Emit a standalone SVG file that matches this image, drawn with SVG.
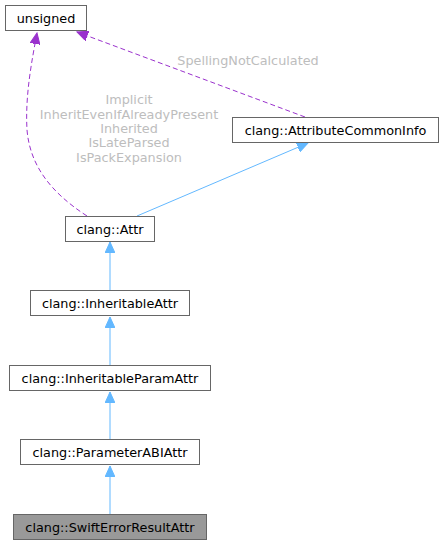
<svg xmlns="http://www.w3.org/2000/svg" width="444" height="545" viewBox="0 0 444 545">
<style>
.n rect{fill:#fff;stroke:#666;stroke-width:1}
.n text{font-family:"DejaVu Sans",sans-serif;font-size:12.8px;fill:#000;text-anchor:middle}
.lbl{font-family:"DejaVu Sans",sans-serif;font-size:12.8px;fill:#bdbdbd;text-anchor:middle}
.inh{fill:none;stroke:#63b8ff;stroke-width:1}
.use{fill:none;stroke:#9a32cd;stroke-width:1;stroke-dasharray:5,3}
</style>
<defs>
<marker id="ab" markerWidth="12" markerHeight="10" refX="11" refY="5" orient="auto" markerUnits="userSpaceOnUse"><path d="M0,0 L11,5 L0,10 Z" fill="#63b8ff" stroke="#63b8ff"/></marker>
<marker id="ap" markerWidth="12" markerHeight="10" refX="11" refY="5" orient="auto" markerUnits="userSpaceOnUse"><path d="M0,0 L11,5 L0,10 Z" fill="#9a32cd" stroke="#9a32cd"/></marker>
</defs>
<g id="edges">
<path class="use" d="M305,117 L77,32" marker-end="url(#ap)"/>
<path class="use" d="M87,216 C50,192 30,165 27,130 C25,95 32,60 37,33" marker-end="url(#ap)"/>
<path class="inh" d="M137,216 L308,143" marker-end="url(#ab)"/>
<path class="inh" d="M110,290 L110,242" marker-end="url(#ab)"/>
<path class="inh" d="M110,365 L110,317" marker-end="url(#ab)"/>
<path class="inh" d="M110,439 L110,392" marker-end="url(#ab)"/>
<path class="inh" d="M110,514 L110,466" marker-end="url(#ab)"/>
<text class="lbl" x="248" y="65">SpellingNotCalculated</text>
<text class="lbl" x="129" y="104">Implicit</text>
<text class="lbl" x="129" y="119">InheritEvenIfAlreadyPresent</text>
<text class="lbl" x="129" y="133">Inherited</text>
<text class="lbl" x="129" y="147">IsLateParsed</text>
<text class="lbl" x="129" y="162">IsPackExpansion</text>
</g>
<g id="unsigned" class="n"><rect x="5.5" y="5.5" width="81" height="25"/><text x="46" y="22.5">unsigned</text></g>
<g id="AttributeCommonInfo" class="n"><rect x="232.5" y="117.5" width="206" height="25"/><text x="335.5" y="134.5">clang::AttributeCommonInfo</text></g>
<g id="Attr" class="n"><rect x="65.5" y="216.5" width="89" height="25"/><text x="110" y="233.5">clang::Attr</text></g>
<g id="InheritableAttr" class="n"><rect x="30.5" y="290.5" width="159" height="25"/><text x="110" y="307.5">clang::InheritableAttr</text></g>
<g id="InheritableParamAttr" class="n"><rect x="9.5" y="365.5" width="201" height="25"/><text x="110" y="382.5">clang::InheritableParamAttr</text></g>
<g id="ParameterABIAttr" class="n"><rect x="20.5" y="439.5" width="179" height="25"/><text x="110" y="456.5">clang::ParameterABIAttr</text></g>
<g id="SwiftErrorResultAttr" class="n"><rect x="13.5" y="514.5" width="193" height="25" style="fill:#999"/><text x="110" y="531.5">clang::SwiftErrorResultAttr</text></g>
</svg>
